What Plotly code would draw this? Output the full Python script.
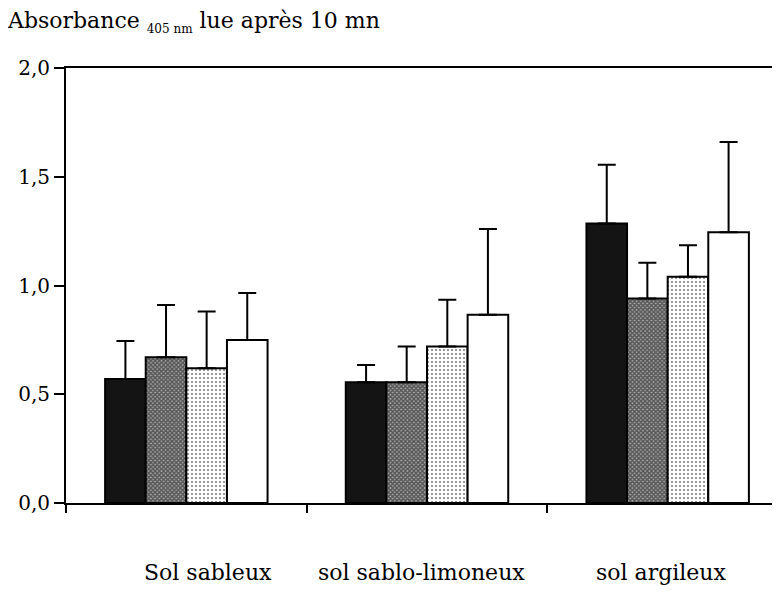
import plotly.graph_objects as go

# soil types (x categories)
sols = ['Sol sableux', 'sol sablo-limoneux', 'sol argileux']

# mean absorbance per treatment, one list per bar style
noir = [0.57, 0.555, 1.285]
hachure = [0.67, 0.555, 0.94]
pointille = [0.62, 0.72, 1.04]
blanc = [0.75, 0.865, 1.245]

# upper error (standard deviation)
err_noir = [0.175, 0.08, 0.27]
err_hachure = [0.24, 0.165, 0.165]
err_pointille = [0.26, 0.215, 0.145]
err_blanc = [0.215, 0.395, 0.415]

y_ticks = [0.0, 0.5, 1.0, 1.5, 2.0]

FONT = 'DejaVu Serif, Liberation Serif, serif'

styles = [
    (noir, err_noir, dict(color='#141414')),
    (hachure, err_hachure, dict(color='#aaaaaa', pattern=dict(shape='x', fgcolor='black', bgcolor='#aaaaaa', size=3, solidity=0.7))),
    (pointille, err_pointille, dict(color='white', pattern=dict(shape='.', fgcolor='black', bgcolor='white', size=4, solidity=0.22))),
    (blanc, err_blanc, dict(color='white')),
]

fig = go.Figure()
for i, (vals, errs, marker) in enumerate(styles):
    marker = dict(marker, line=dict(color='black', width=2))
    fig.add_trace(go.Bar(
        x=sols,
        y=vals,
        name=f'série {i + 1}',
        marker=marker,
        error_y=dict(
            type='data',
            symmetric=False,
            array=errs,
            arrayminus=[0] * len(errs),
            color='black',
            thickness=2,
            width=9
        )
    ))

# category labels sit well below the axis, slightly off-centre as in the original
label_shift = [22, -6, -6]
for sol, dx in zip(sols, label_shift):
    fig.add_annotation(
        x=sol, y=0, xref='x', yref='paper',
        yshift=-69, xshift=dx,
        text=sol, showarrow=False,
        xanchor='center', yanchor='middle',
        font=dict(family=FONT, size=22, color='black')
    )

# the page body adds an 8px margin, so the margins below are 8px smaller
fig.update_layout(
    width=780,
    height=613,
    margin=dict(l=58, r=0, t=60, b=118),
    barmode='group',
    bargap=0.325,
    bargroupgap=0,
    showlegend=False,
    plot_bgcolor='white',
    paper_bgcolor='white',
    separators=', ',
    font=dict(family=FONT, size=20, color='black'),
    title=dict(
        text='Absorbance <sub><span style="font-size:12px">405 nm</span></sub> lue après 10 mn',
        x=0.0, xanchor='left',
        y=0.98, yanchor='middle',
        font=dict(family=FONT, size=22, color='black')
    ),
    xaxis=dict(
        range=[-0.5, 2.5],
        tickson='boundaries',
        ticks='outside',
        ticklen=8,
        tickwidth=2,
        tickcolor='black',
        showline=True,
        linecolor='black',
        linewidth=2,
        mirror=True,
        showgrid=False,
        showticklabels=False
    ),
    yaxis=dict(
        range=[0, 2],
        tickvals=y_ticks,
        tickformat='.1f',
        ticks='outside',
        ticklen=10,
        tickwidth=2,
        tickcolor='black',
        showline=True,
        linecolor='black',
        linewidth=2,
        showgrid=False,
        zeroline=False,
        tickfont=dict(family=FONT, size=20)
    )
)

fig.write_html("out.html")
